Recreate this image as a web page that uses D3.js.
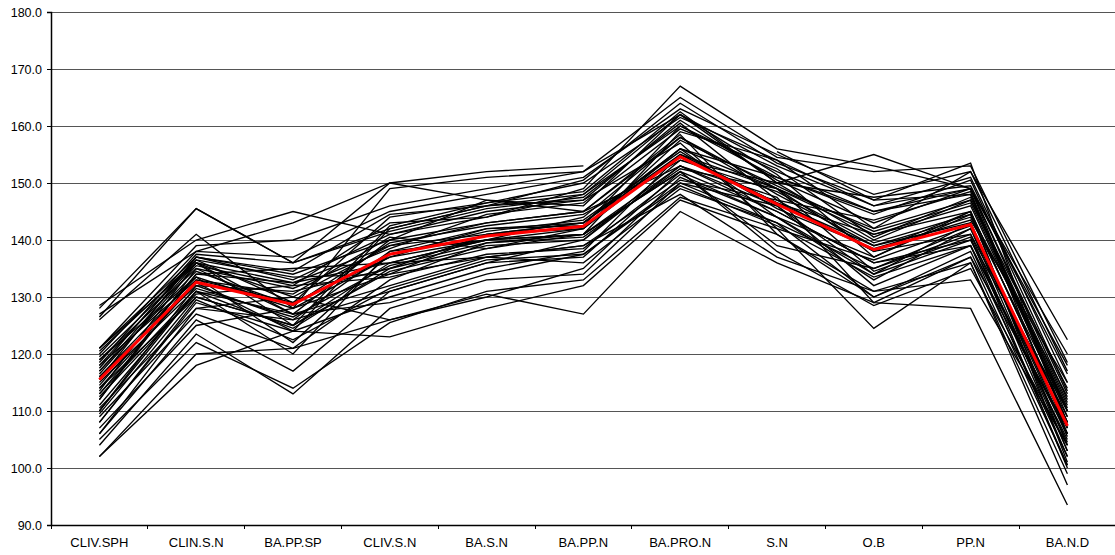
<!DOCTYPE html>
<html>
<head>
<meta charset="utf-8">
<script src="https://cdn.jsdelivr.net/npm/d3@7"></script>
<style>
  html, body { margin: 0; padding: 0; background: #fff; }
  svg { display: block; font-family: "Liberation Sans", Arial, sans-serif; }
</style>
</head>
<body>
<svg id="chart" width="1115" height="555"></svg>
<script>
// Cranial measurement profiles (one polyline per specimen) with the mean profile in red.
const categories = ["CLIV.SPH", "CLIN.S.N", "BA.PP.SP", "CLIV.S.N", "BA.S.N", "BA.PP.N",
                    "BA.PRO.N", "S.N", "O.B", "PP.N", "BA.N.D"];

const yTicks = [90, 100, 110, 120, 130, 140, 150, 160, 170, 180];

const meanProfile = [115.5, 132.6, 128.7, 137.5, 140.7, 142.4, 154.6, 146.3, 138.3, 142.7, 107.4];

const specimens = [
  [102, 118, 124, 123, 128, 132, 147, 141, 131, 133, 104],
  [102, 120, 121, 126, 130.5, 127, 145, 136, 129, 128, 93.5],
  [104, 123.5, 113, 128, 133, 134, 150, 146, 134, 140, 110],
  [105, 122, 114, 125.5, 131, 133, 147.5, 142, 124.5, 136, 99],
  [106, 126, 117, 131, 136, 137, 152, 139, 135, 141, 102],
  [107, 125, 128, 134, 137, 136, 149, 143, 130, 137, 107],
  [108, 129, 124, 130, 135, 138, 155, 149, 141, 145, 101],
  [109, 127, 121, 133, 139.5, 141, 152, 145, 136, 139, 105],
  [109.5, 130, 125, 136, 137, 139, 150.5, 147, 138, 141, 109],
  [110, 132, 131, 135, 141, 142, 156, 144, 133, 142, 103],
  [110.5, 128, 126, 131, 136, 140, 154, 150, 140, 147, 111],
  [111, 131, 120, 138, 140, 144, 158, 148, 139, 143, 104],
  [112, 135, 127, 140, 143, 145, 153, 146, 132, 139, 106],
  [112.5, 130.5, 132, 133.5, 137.5, 138.5, 151.5, 144, 137, 144.5, 112.5],
  [113, 133, 129, 137, 142, 142.5, 160, 152, 145, 148, 109],
  [113.5, 136, 130, 139, 141, 143, 155, 146.5, 141, 146, 110],
  [114, 132.5, 124, 142, 146, 147, 157, 142, 136.5, 142.5, 105.5],
  [114.5, 134, 135, 136, 140, 141, 159, 154, 142, 147, 114],
  [115, 131.5, 126.5, 135.5, 139.5, 140.5, 152.5, 149, 134.5, 140.5, 100],
  [115.5, 137, 133, 141, 145, 147, 161, 150.5, 143, 149, 108],
  [116, 133.5, 122, 137.5, 141.5, 143.5, 155.5, 145.5, 138.5, 143.5, 115],
  [116.5, 135.5, 132, 143, 144, 148, 162, 153, 146, 149, 113],
  [117, 134.5, 128.5, 139.5, 142.5, 144.5, 154, 148.5, 139.5, 144.5, 103],
  [117.5, 137, 134, 140, 147, 146, 162, 151.5, 137, 145, 108],
  [118, 136.5, 129, 144, 146.5, 150, 161.5, 154, 146, 151, 115],
  [118, 133, 130.5, 140.5, 138.5, 142, 157.5, 149.5, 141.5, 146.5, 110.5],
  [118.5, 137.5, 136, 141.5, 145.5, 147.5, 160.5, 147, 143.5, 148.5, 106],
  [119, 135, 131.5, 138.5, 144.5, 146.5, 159.5, 152.5, 140.5, 147.5, 111.5],
  [119.5, 136, 125, 142.5, 146.5, 148.5, 162.5, 150, 147.5, 149.5, 116.5],
  [120, 138, 137, 145, 148, 151, 163, 155, 148, 152, 117],
  [120.5, 136.5, 133.5, 134, 141, 143, 156, 151, 144.5, 150.5, 113.5],
  [121, 139, 140, 146, 149, 152, 165, 154.5, 152, 153, 118.5],
  [121, 137, 134.5, 144.5, 146, 150.5, 164, 153.5, 147, 153.5, 107],
  [126, 141, 128, 149, 151, 152, 162, 150, 155, 149, 120],
  [126.5, 145.5, 136, 150, 152, 153, null, null, null, null, null],
  [128, 145.5, 136, 142, 146, 148, 160, 151, 145, 149, 112],
  [127, 138, 143, 150, 147, 145, 158, 149, 142, 152, 122.5],
  [128.5, 140, 145, 141, 144, 149, 167, 156, 153, 149, 118],
  [110, 131, 127, 129, 134, 137.5, 150, 143, 135, 142, 107],
  [112, 134, 132.5, 136, 140, 141, 153, 147.5, 129, 137, 100.5],
  [114, 130, 125, 134.5, 138.5, 141, 152, 138, 128.5, 135, 104],
  [116, 132, 126, 138, 142, 143, 156, 149, 138, 145, 108],
  [117, 136, 132.5, 139, 143, 145, 158.5, 141, 130, 138, 102],
  [119, 133.5, 128, 137, 140, 142, 155, 146.5, 139, 144, 110],
  [108, 129.5, 122.5, 131.5, 136.5, 137.5, 149.5, 142.5, 133.5, 139, 100.5],
  [113, 131, 124.5, 135, 139, 140, 153, 145, 136, 140, 104.5],
  [null, null, null, null, null, null, null, 155.5, 147, 148, 110],
  [106, 128, 130, 126, 130, 135, 151, 144, 134, 143, 106],
  [121, 136, 127, 132, 137, 139, 148, 137, 131, 136, 97]
];

const svg = d3.select("#chart");
const plotLeft = 51, plotTop = 12, plotBottom = 525, plotRight = 51 + 96.8 * 11;
const labelFont = "Liberation Sans, Arial, sans-serif";

const x = d3.scaleBand().domain(categories).range([plotLeft, plotRight]);
const y = d3.scaleLinear().domain([90, 180]).range([plotBottom, plotTop]);
const cx = c => x(c) + x.bandwidth() / 2;

// horizontal gridlines
svg.append("g")
  .selectAll("line")
  .data(yTicks)
  .join("line")
  .attr("x1", plotLeft).attr("x2", plotRight)
  .attr("y1", d => y(d)).attr("y2", d => y(d))
  .attr("stroke", "#555").attr("stroke-width", 1)
  .attr("shape-rendering", "crispEdges");

// y axis
const yAxis = svg.append("g")
  .attr("transform", `translate(${plotLeft},0)`)
  .call(d3.axisLeft(y).tickValues(yTicks).tickFormat(d3.format(".1f")).tickSize(4).tickPadding(5));
yAxis.select(".domain").attr("stroke", "#000").attr("stroke-width", 1.5);
yAxis.selectAll(".tick line").attr("stroke", "#000");
yAxis.selectAll("text").attr("font-size", 12.5).attr("fill", "#000").attr("font-family", labelFont);

// x axis: labels centred in bands, tick marks between categories
const xAxis = svg.append("g")
  .attr("transform", `translate(0,${plotBottom})`)
  .call(d3.axisBottom(x).tickSize(0).tickPadding(13));
xAxis.select(".domain").attr("stroke", "#000").attr("stroke-width", 1.5);
xAxis.selectAll("text").attr("font-size", 13).attr("fill", "#000").attr("font-family", labelFont);

svg.append("g")
  .selectAll("line")
  .data(categories.map(c => x(c)).concat([plotRight]))
  .join("line")
  .attr("x1", d => d).attr("x2", d => d)
  .attr("y1", plotBottom).attr("y2", plotBottom + 4)
  .attr("stroke", "#000").attr("stroke-width", 1)
  .attr("shape-rendering", "crispEdges");

const line = d3.line()
  .defined(d => d.v != null)
  .x(d => cx(d.c))
  .y(d => y(d.v));

const toPoints = vals => vals.map((v, i) => ({ c: categories[i], v }));

svg.append("g")
  .selectAll("path")
  .data(specimens)
  .join("path")
  .attr("d", s => line(toPoints(s)))
  .attr("fill", "none")
  .attr("stroke", "#000")
  .attr("stroke-width", 1.35)
  .attr("stroke-linejoin", "miter");

svg.append("path")
  .attr("d", line(toPoints(meanProfile)))
  .attr("fill", "none")
  .attr("stroke", "#ff0000")
  .attr("stroke-width", 3);
</script>
</body>
</html>
